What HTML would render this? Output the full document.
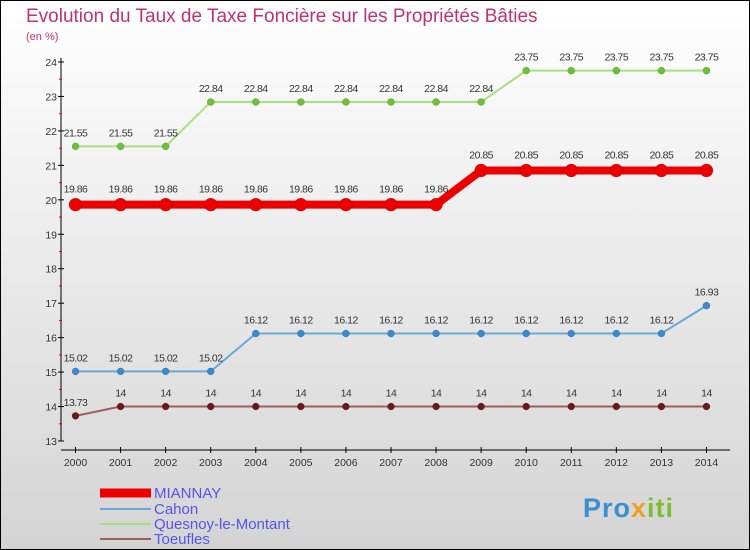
<!DOCTYPE html>
<html><head><meta charset="utf-8"><style>
body{margin:0}
svg{display:block;font-family:"Liberation Sans",sans-serif}
</style></head><body>
<svg id="c" width="750" height="550">
<defs><linearGradient id="bg" x1="0" y1="0" x2="0" y2="1"><stop offset="0" stop-color="#ffffff"/><stop offset="1" stop-color="#d4d4d4"/></linearGradient></defs>
<rect x="0.5" y="0.5" width="749" height="549" fill="url(#bg)" stroke="#000"/>
<text x="26" y="22" font-size="19" fill="#c0336a">Evolution du Taux de Taxe Foncière sur les Propriétés Bâties</text>
<text x="26" y="40" font-size="11" fill="#c0336a">(en %)</text>
<g id="axes"></g>
<g id="series"></g>
<g id="legend"></g>
<text x="583" y="517" font-size="27" font-weight="bold" letter-spacing="1"><tspan fill="#3a8fd0">Pro</tspan><tspan fill="#f0a020">x</tspan><tspan fill="#7bbf30">iti</tspan></text>
</svg>
<script>
const years=[2000,2001,2002,2003,2004,2005,2006,2007,2008,2009,2010,2011,2012,2013,2014];
const yTicks=[13,14,15,16,17,18,19,20,21,22,23,24];
const mianVals=[19.86,19.86,19.86,19.86,19.86,19.86,19.86,19.86,19.86,20.85,20.85,20.85,20.85,20.85,20.85];
const cahonVals=[15.02,15.02,15.02,15.02,16.12,16.12,16.12,16.12,16.12,16.12,16.12,16.12,16.12,16.12,16.93];
const quesVals=[21.55,21.55,21.55,22.84,22.84,22.84,22.84,22.84,22.84,22.84,23.75,23.75,23.75,23.75,23.75];
const toeVals=[13.73,14,14,14,14,14,14,14,14,14,14,14,14,14,14];
const NS="http://www.w3.org/2000/svg";
const xS=i=>75.5+i*45.07;
const yS=v=>441-(v-13)*(379/11);
function mk(p,t,a){const e=document.createElementNS(NS,t);for(const k in a)e.setAttribute(k,a[k]);p.appendChild(e);return e;}
const ax=document.getElementById('axes');
let l=mk(ax,'line',{x1:61,y1:58,x2:61,y2:441,stroke:'#000'});


l=mk(ax,'line',{x1:61,y1:450,x2:730,y2:450,stroke:'#000'});


yTicks.forEach((v,i)=>{const y=yS(v);
 mk(ax,'line',{x1:58,y1:y,x2:64,y2:y,stroke:'#000'});
 if(i<yTicks.length-1)mk(ax,'line',{x1:59,y1:y-17.2,x2:62,y2:y-17.2,stroke:'#e00'});
 const t=mk(ax,'text',{x:57,y:y+4,'font-size':10.5,'text-anchor':'end',fill:'#333'});t.textContent=v;
 
 
});
years.forEach((yr,i)=>{const x=xS(i);
 mk(ax,'line',{x1:x,y1:447,x2:x,y2:453,stroke:'#000'});
 const t=mk(ax,'text',{x:x,y:466,'font-size':10.5,'text-anchor':'middle',fill:'#333'});t.textContent=yr;
 
 
});
const sg=document.getElementById('series');
function series(name,vals,color,dot,w,r,labelDy){
 const g=mk(sg,'g',{});
 
 
 mk(g,'polyline',{points:vals.map((v,i)=>xS(i)+','+yS(v)).join(' '),fill:'none',stroke:color,'stroke-width':w});
 vals.forEach((v,i)=>{const c=mk(g,'circle',{cx:xS(i),cy:yS(v),r:r,fill:dot,stroke:'rgba(0,0,0,0.3)','stroke-width':0.5});
  
  
  const t=mk(g,'text',{x:xS(i),y:yS(v)+labelDy,'font-size':10.5,'text-anchor':'middle',fill:'#333','letter-spacing':-0.5});
  t.textContent=String(v);
  
  
 });
}
series('quesnoy',quesVals,'#a8e080','#6cc234',2,3.5,-10);
series('mianay',mianVals,'#ee0000','#ee0000',8,6.5,-12);
series('cahon',cahonVals,'#6aaad8','#3a8ad0',2,3.5,-10);
series('toeufles',toeVals,'#9a6060','#6a1818',2,3.5,-10);
const lg=document.getElementById('legend');
[['MIANNAY','#ee0000',9,493],['Cahon','#6aaad8',2,509],['Quesnoy-le-Montant','#a8e080',2,524],['Toeufles','#9a6060',2,539]].forEach(([n,c,w,y])=>{
 const g=mk(lg,'g',{});
 
 
 mk(g,'line',{x1:100,y1:y,x2:151,y2:y,stroke:c,'stroke-width':w});
 const t=mk(g,'text',{x:154,y:y+5,'font-size':15,fill:'#5555ee'});t.textContent=n;
});
</script>
</body></html>
